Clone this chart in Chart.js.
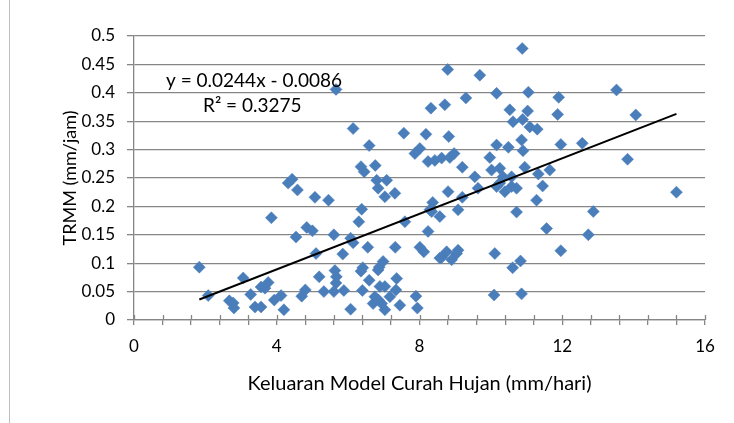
<!DOCTYPE html>
<html>
<head>
<meta charset="utf-8">
<script src="https://cdn.jsdelivr.net/npm/chart.js@4.4.0/dist/chart.umd.min.js"></script>
<style>
    html, body { margin: 0; padding: 0; background: #fff; }
    #wrap { position: relative; width: 734px; height: 423px; }
    #frame { position: absolute; left: 9px; top: 0; bottom: 0; border-left: 1px solid #bdbdbd; }
    canvas { display: block; }
</style>
</head>
<body>
<div id="wrap">
    <div id="frame"></div>
    <canvas id="chart" width="734" height="423"></canvas>
</div>
<script>
// model rainfall (mm/hari) vs TRMM (mm/jam)
const modelRain = [
    1.83, 2.08, 2.67, 2.78, 2.80, 3.06, 3.27, 3.39, 3.56, 3.56,
    3.67, 3.76, 3.85, 3.93, 4.12, 4.20, 4.32, 4.43, 4.58, 4.54,
    4.70, 4.80, 4.84, 5.00, 5.07, 5.10, 5.19, 5.32, 5.45, 5.60,
    5.63, 5.67, 5.66, 5.60, 5.88, 5.85, 6.07, 6.07, 6.14, 6.38,
    6.30, 6.41, 6.36, 6.40, 6.55, 6.59, 6.70, 6.75, 6.85, 6.94,
    7.03, 6.87, 6.98, 6.89, 7.03, 7.17, 7.36, 7.34, 7.45, 7.32,
    7.90, 7.94, 7.59, 8.01, 8.12, 8.24, 8.57, 8.37, 8.29, 8.80,
    9.08, 8.62, 8.76, 8.90, 9.04, 6.84, 7.08, 7.31, 7.03, 6.80,
    6.84, 5.66, 6.14, 6.59, 7.56, 8.18, 8.82, 8.32, 8.71, 8.79,
    9.30, 9.69, 10.16, 7.87, 8.01, 8.24, 8.43, 8.62, 8.85, 8.97,
    9.20, 6.36, 6.45, 6.76, 9.97, 10.16, 10.02, 9.55, 11.05, 11.90,
    10.53, 11.03, 11.87, 10.62, 10.89, 11.09, 11.30, 10.49, 10.86, 10.90,
    11.96, 12.56, 10.25, 10.95, 11.65, 11.33, 10.34, 10.58, 10.25, 10.58,
    10.72, 10.39, 9.64, 11.45, 11.28, 10.88, 13.52, 14.06, 13.83, 15.20,
    12.87, 12.73, 11.96, 11.56, 10.72, 10.11, 10.61, 10.83, 10.09, 10.86,
    10.16, 9.08, 9.20, 8.34, 8.57
];
const trmm = [
    0.093, 0.043, 0.034, 0.030, 0.021, 0.074, 0.045, 0.023, 0.023, 0.058,
    0.056, 0.066, 0.180, 0.035, 0.043, 0.018, 0.241, 0.248, 0.229, 0.146,
    0.042, 0.053, 0.163, 0.157, 0.216, 0.117, 0.076, 0.050, 0.211, 0.150,
    0.087, 0.076, 0.065, 0.050, 0.052, 0.116, 0.019, 0.144, 0.136, 0.195,
    0.173, 0.092, 0.086, 0.052, 0.128, 0.070, 0.029, 0.041, 0.035, 0.029,
    0.018, 0.093, 0.103, 0.059, 0.059, 0.041, 0.073, 0.053, 0.026, 0.128,
    0.042, 0.021, 0.173, 0.128, 0.120, 0.156, 0.182, 0.207, 0.194, 0.226,
    0.194, 0.110, 0.120, 0.106, 0.117, 0.232, 0.246, 0.223, 0.217, 0.246,
    0.088, 0.406, 0.337, 0.307, 0.329, 0.327, 0.323, 0.373, 0.379, 0.441,
    0.391, 0.431, 0.399, 0.293, 0.302, 0.279, 0.281, 0.285, 0.286, 0.293,
    0.269, 0.270, 0.261, 0.272, 0.286, 0.308, 0.264, 0.252, 0.401, 0.392,
    0.370, 0.368, 0.362, 0.349, 0.353, 0.340, 0.336, 0.304, 0.317, 0.298,
    0.309, 0.311, 0.267, 0.269, 0.264, 0.257, 0.252, 0.252, 0.241, 0.235,
    0.232, 0.226, 0.232, 0.236, 0.211, 0.478, 0.405, 0.361, 0.283, 0.225,
    0.191, 0.150, 0.122, 0.161, 0.190, 0.117, 0.092, 0.104, 0.044, 0.046,
    0.235, 0.123, 0.216, 0.191, 0.109
];

// linear trendline end points
const trendX = [1.83, 15.2];
const trendY = [0.036, 0.363];

const xTickValues = [0, 4, 8, 12, 16];
const xTickLabels = ['0', '4', '8', '12', '16'];
const yTickLabels = ['0', '0.05', '0.1', '0.15', '0.2', '0.25', '0.3', '0.35', '0.4', '0.45', '0.5'];

const xTitle = 'Keluaran Model Curah Hujan (mm/hari)';
const yTitle = 'TRMM (mm/jam)';
const equationText = 'y = 0.0244x - 0.0086';
const rSquaredText = 'R\u00B2 = 0.3275';

const FONT = 'Lato, "Open Sans", sans-serif';
const GRID = '#868686';

// Excel style tick marks cross the x axis, so add the upper half
const crossTicks = {
    id: 'crossTicks',
    afterDraw(chart) {
        const { ctx, chartArea, scales } = chart;
        const xs = scales.x;
        ctx.save();
        ctx.strokeStyle = GRID;
        ctx.lineWidth = 1.3;
        xs.ticks.forEach((t, i) => {
            const px = Math.round(xs.getPixelForTick(i)) + 0.5;
            ctx.beginPath();
            ctx.moveTo(px, chartArea.bottom);
            ctx.lineTo(px, chartArea.bottom - 5);
            ctx.stroke();
        });
        ctx.restore();
    }
};

// equation box and the rotated y title
const textLayer = {
    id: 'textLayer',
    afterDatasetsDraw(chart) {
        const { ctx, chartArea } = chart;
        ctx.save();
        ctx.fillStyle = '#000';
        ctx.font = '19px ' + FONT;
        ctx.textBaseline = 'middle';
        ctx.textAlign = 'left';
        ctx.fillText(equationText, chartArea.left + 32, chartArea.top + 45);
        ctx.fillText(rSquaredText, chartArea.left + 69, chartArea.top + 70);

        ctx.font = '18px ' + FONT;
        ctx.textAlign = 'center';
        ctx.translate(chartArea.left - 64, (chartArea.top + chartArea.bottom) / 2);
        ctx.rotate(-Math.PI / 2);
        ctx.fillText(yTitle, 0, 0);
        ctx.restore();
    }
};

const points = modelRain.map((x, i) => ({ x: x, y: trmm[i] }));
const trend = trendX.map((x, i) => ({ x: x, y: trendY[i] }));

new Chart(document.getElementById('chart'), {
    type: 'scatter',
    data: {
        datasets: [
            {
                type: 'line',
                label: 'Linear',
                data: trend,
                borderColor: '#000',
                borderWidth: 2,
                pointRadius: 0,
                fill: false,
                order: 0,
            },
            {
                label: 'TRMM',
                data: points,
                pointStyle: 'rectRot',
                pointRadius: 6,
                backgroundColor: '#4a7ebb',
                borderColor: '#4a7ebb',
                borderWidth: 0.5,
                order: 1,
            }
        ]
    },
    options: {
        responsive: false,
        animation: false,
        layout: { padding: { left: 0, top: 36, right: 29, bottom: 27 } },
        plugins: {
            legend: { display: false },
            tooltip: { enabled: false },
        },
        scales: {
            x: {
                type: 'linear',
                min: 0,
                max: 16,
                afterFit: s => { s.height = 76; },
                ticks: {
                    stepSize: 0.8,
                    autoSkip: false,
                    maxRotation: 0,
                    padding: 11,
                    color: '#000',
                    font: { family: FONT, size: 17 },
                    callback: v => {
                        const k = xTickValues.findIndex(t => Math.abs(t - v) < 1e-6);
                        return k >= 0 ? xTickLabels[k] : '';
                    }
                },
                grid: { drawOnChartArea: false, color: GRID, lineWidth: 1.3, tickLength: 5 },
                border: { color: GRID, width: 1.3 },
                title: {
                    display: true,
                    text: xTitle,
                    color: '#000',
                    font: { family: FONT, size: 20 },
                    padding: 0
                }
            },
            y: {
                min: 0,
                max: 0.5,
                afterFit: s => { s.width = 134; },
                ticks: {
                    stepSize: 0.05,
                    padding: 12,
                    color: '#000',
                    font: { family: FONT, size: 17 },
                    callback: (v, i) => yTickLabels[i]
                },
                grid: { color: GRID, lineWidth: 1.3, tickLength: 7 },
                border: { color: GRID, width: 1.3 }
            }
        }
    },
    plugins: [crossTicks, textLayer]
});
</script>
</body>
</html>
